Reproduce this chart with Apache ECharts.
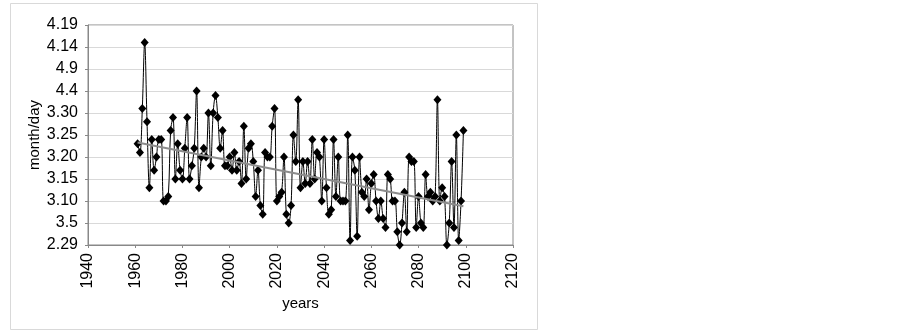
<!DOCTYPE html>
<html>
<head>
<meta charset="utf-8">
<script src="https://cdn.jsdelivr.net/npm/echarts@6/dist/echarts.min.js"></script>
<style>
html,body{margin:0;padding:0;background:#fff;}
#chart{width:902px;height:330px;}
</style>
</head>
<body>
<div id="chart"></div>
<script>
// x values (years)
var years = [
1961,1962,1963,1964,1965,1966,1967,1968,1969,1970,
1971,1972,1973,1974,1975,1976,1977,1978,1979,1980,
1981,1982,1983,1984,1985,1986,1987,1988,1989,1990,
1991,1992,1993,1994,1995,1996,1997,1998,1999,2000,
2001,2002,2003,2004,2005,2006,2007,2008,2009,2010,
2011,2012,2013,2014,2015,2016,2017,2018,2019,2020,
2021,2022,2023,2024,2025,2026,2027,2028,2029,2030,
2031,2032,2033,2034,2035,2036,2037,2038,2039,2040,
2041,2042,2043,2044,2045,2046,2047,2048,2049,2050,
2051,2052,2053,2054,2055,2056,2057,2058,2059,2060,
2061,2062,2063,2064,2065,2066,2067,2068,2069,2070,
2071,2072,2073,2074,2075,2076,2077,2078,2079,2080,
2081,2082,2083,2084,2085,2086,2087,2088,2089,2090,
2091,2092,2093,2094,2095,2096,2097,2098,2099
];
// date values: days after 2.29 (0 = 2.29, 5 = 3.5, ... 50 = 4.19)
var dayValues = [
23,21,31,46,28,13,24,17,20,24,
24,10,10,11,26,29,15,23,17,15,
22,29,15,18,22,35,13,20,22,20,
30,18,30,34,29,22,26,18,18,20,
17,21,17,19,14,27,15,22,23,19,
11,17,9,7,21,20,20,27,31,10,
11,12,20,7,5,9,25,19,33,13,
19,14,19,14,24,15,21,20,10,24,
13,7,8,24,11,20,10,10,10,25,
1,20,17,2,20,12,11,15,8,14,
16,10,6,10,6,4,16,15,10,10,
3,0,5,12,3,20,19,19,4,11,
5,4,16,11,12,10,11,33,10,13,
11,0,5,19,4,25,1,10,26
];
// linear trend line end points
var trendYears = [1961, 2099];
var trendValues = [23.3, 8.8];
// y tick labels (month.day), every 5 days
var yTickLabels = ['2.29','3.5','3.10','3.15','3.20','3.25','3.30','4.4','4.9','4.14','4.19'];

var FONT = 'Arial, "Liberation Sans", sans-serif';
var chart = echarts.init(document.getElementById('chart'), null, {renderer:'canvas'});

var points = years.map(function(y,i){return [y, dayValues[i]];});
var trend = trendYears.map(function(y,i){return [y, trendValues[i]];});

chart.setOption({
  animation:false,
  backgroundColor:'#ffffff',
  graphic:[{
    type:'rect', left:8, top:1, silent:true,
    shape:{width:527, height:326},
    style:{fill:'none', stroke:'#d9d9d9', lineWidth:1}
  }],
  grid:{left:88, right:389, top:25, bottom:85, show:true, borderColor:'#888888', borderWidth:1, backgroundColor:'transparent'},
  xAxis:{
    type:'value', min:1940, max:2120, interval:20,
    name:'years', nameLocation:'middle', nameGap:50,
    nameTextStyle:{fontFamily:FONT, fontSize:15, color:'#000'},
    axisLine:{lineStyle:{color:'#888888'}},
    axisTick:{show:true, length:3, inside:false, lineStyle:{color:'#888888'}},
    axisLabel:{rotate:90, fontFamily:FONT, fontSize:16, color:'#000', margin:8,
      formatter:function(v){return String(v);}},
    splitLine:{show:false}
  },
  yAxis:{
    type:'value', min:0, max:50, interval:5,
    name:'month/day', nameLocation:'middle', nameGap:46, nameRotate:90,
    nameTextStyle:{fontFamily:FONT, fontSize:15, color:'#000'},
    axisLine:{show:true, lineStyle:{color:'#888888'}},
    axisTick:{show:true, length:3, lineStyle:{color:'#888888'}},
    axisLabel:{fontFamily:FONT, fontSize:16, color:'#000', margin:10,
      formatter:function(v){return yTickLabels[Math.round(v/5)];}},
    splitLine:{show:true, lineStyle:{color:'#d9d9d9', width:1}}
  },
  series:[
    {
      type:'line', data:points, smooth:0.35,
      symbol:'diamond', symbolSize:[8,9],
      itemStyle:{color:'#000'},
      lineStyle:{color:'#000', width:1},
      z:2
    },
    {
      type:'line', data:trend, symbol:'none',
      lineStyle:{color:'#8c8c8c', width:2},
      z:3
    }
  ]
});
</script>
</body>
</html>
